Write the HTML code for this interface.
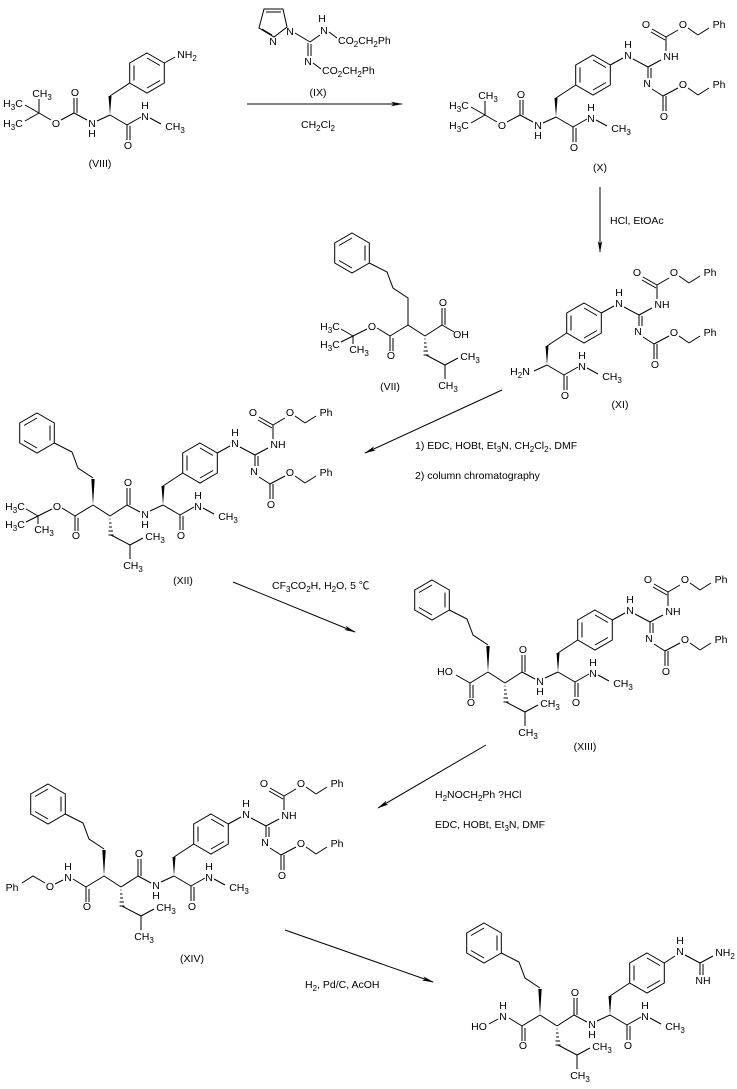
<!DOCTYPE html>
<html><head><meta charset="utf-8">
<style>
html,body{margin:0;padding:0;background:#fff;}
svg{display:block;}
text{font-family:"Liberation Sans","Noto Sans CJK SC",sans-serif;font-size:10.5px;fill:#000;}
.m{text-anchor:middle;}
line,polyline,polygon.r{stroke:#000;stroke-width:1;fill:none;}
</style></head><body>
<svg width="737" height="1089" viewBox="0 0 737 1089" xmlns="http://www.w3.org/2000/svg">
<defs>
<marker id="ah" markerWidth="12" markerHeight="6" refX="11" refY="3" orient="auto" markerUnits="userSpaceOnUse">
<polygon points="0,0.8 12,3 0,5.2 3,3" fill="#000"/>
</marker>
</defs>

<!-- ===== VIII ===== -->
<g transform="translate(-53,-390)">
 <!-- Boc -->
 <line x1="92" y1="503" x2="78" y2="495"/><line x1="92" y1="503" x2="78" y2="511"/><line x1="92" y1="503" x2="92" y2="489"/>
 <text x="95" y="487" class="m">CH<tspan dy="3" font-size="8">3</tspan></text>
 <text x="66" y="497" class="m">H<tspan dy="3" font-size="8">3</tspan><tspan dy="-3">C</tspan></text>
 <text x="66" y="517" class="m">H<tspan dy="3" font-size="8">3</tspan><tspan dy="-3">C</tspan></text>
 <line x1="92" y1="503" x2="104" y2="510"/>
 <text x="109" y="517" class="m">O</text>
 <line x1="114" y1="510" x2="127" y2="503"/>
 <line x1="127" y1="503" x2="127" y2="488"/><line x1="130" y1="503" x2="130" y2="488"/>
 <text x="128" y="486" class="m">O</text>
 <line x1="127" y1="503" x2="140" y2="510"/>
 <text x="145" y="517" class="m">N</text><text x="145" y="527" class="m">H</text>
 <!-- phe -->
 <line x1="150" y1="511" x2="163" y2="505"/>
 <polygon points="163,505 161.5,486 164.5,486" fill="#000"/>
 <line x1="163" y1="486" x2="182.7" y2="473"/>
 <polygon class="r" points="200,443 217.3,453 217.3,473 200,483 182.7,473 182.7,453"/>
 <line x1="200" y1="448" x2="213" y2="455.5"/><line x1="213" y1="470.5" x2="200" y2="478"/><line x1="187" y1="470.5" x2="187" y2="455.5"/>
 <line x1="163" y1="505" x2="180" y2="515"/>
 <line x1="180" y1="515" x2="180" y2="530"/><line x1="183" y1="516" x2="183" y2="530"/>
 <text x="181" y="539" class="m">O</text>
 <line x1="180" y1="515" x2="194" y2="507"/>
 <text x="198" y="510" class="m">N</text><text x="198" y="499" class="m">H</text>
 <line x1="203" y1="508" x2="214" y2="514"/>
 <text x="228" y="520" class="m">CH<tspan dy="3" font-size="8">3</tspan></text>
 <line x1="217.3" y1="453" x2="228" y2="447"/>
 <text x="240" y="448" class="m">NH<tspan dy="3" font-size="8">2</tspan></text>
</g>
<text x="100" y="167" class="m">(VIII)</text>

<!-- ===== IX reagent ===== -->
<polygon class="r" points="264,9 283,9 287,27 274,37 259,28"/>
<line x1="266" y1="12" x2="281" y2="12"/><line x1="262" y1="29" x2="272" y2="35"/>
<text x="290" y="35" class="m">N</text><text x="273" y="45" class="m">N</text>
<line x1="295" y1="33" x2="310" y2="42"/>
<line x1="310" y1="42" x2="320" y2="35"/>
<text x="324" y="34" class="m">N</text><text x="322" y="22" class="m">H</text>
<line x1="329" y1="32" x2="337" y2="38"/>
<text x="338" y="44">CO<tspan dy="3" font-size="8">2</tspan><tspan dy="-3">CH</tspan><tspan dy="3" font-size="8">2</tspan><tspan dy="-3">Ph</tspan></text>
<line x1="308" y1="43" x2="308" y2="56"/><line x1="311" y1="44" x2="311" y2="56"/>
<text x="308" y="65" class="m">N</text>
<line x1="313" y1="63" x2="321" y2="69"/>
<text x="322" y="74">CO<tspan dy="3" font-size="8">2</tspan><tspan dy="-3">CH</tspan><tspan dy="3" font-size="8">2</tspan><tspan dy="-3">Ph</tspan></text>
<text x="318" y="96" class="m">(IX)</text>
<line x1="247" y1="104" x2="402" y2="104" marker-end="url(#ah)"/>
<text x="318" y="128" class="m">CH<tspan dy="3" font-size="8">2</tspan><tspan dy="-3">Cl</tspan><tspan dy="3" font-size="8">2</tspan></text>

<!-- ===== X ===== -->
<g transform="translate(393,-388)">
 <line x1="92" y1="503" x2="78" y2="495"/><line x1="92" y1="503" x2="78" y2="511"/><line x1="92" y1="503" x2="92" y2="489"/>
 <text x="95" y="487" class="m">CH<tspan dy="3" font-size="8">3</tspan></text>
 <text x="66" y="497" class="m">H<tspan dy="3" font-size="8">3</tspan><tspan dy="-3">C</tspan></text>
 <text x="66" y="517" class="m">H<tspan dy="3" font-size="8">3</tspan><tspan dy="-3">C</tspan></text>
 <line x1="92" y1="503" x2="104" y2="510"/>
 <text x="109" y="517" class="m">O</text>
 <line x1="114" y1="510" x2="127" y2="503"/>
 <line x1="127" y1="503" x2="127" y2="488"/><line x1="130" y1="503" x2="130" y2="488"/>
 <text x="128" y="486" class="m">O</text>
 <line x1="127" y1="503" x2="140" y2="510"/>
 <text x="145" y="517" class="m">N</text><text x="145" y="527" class="m">H</text>
 <line x1="150" y1="511" x2="163" y2="505"/>
 <polygon points="163,505 161.5,486 164.5,486" fill="#000"/>
 <line x1="163" y1="486" x2="182.7" y2="473"/>
 <polygon class="r" points="200,443 217.3,453 217.3,473 200,483 182.7,473 182.7,453"/>
 <line x1="200" y1="448" x2="213" y2="455.5"/><line x1="213" y1="470.5" x2="200" y2="478"/><line x1="187" y1="470.5" x2="187" y2="455.5"/>
 <line x1="163" y1="505" x2="180" y2="515"/>
 <line x1="180" y1="515" x2="180" y2="530"/><line x1="183" y1="516" x2="183" y2="530"/>
 <text x="181" y="539" class="m">O</text>
 <line x1="180" y1="515" x2="194" y2="507"/>
 <text x="198" y="510" class="m">N</text><text x="198" y="499" class="m">H</text>
 <line x1="203" y1="508" x2="214" y2="514"/>
 <text x="228" y="520" class="m">CH<tspan dy="3" font-size="8">3</tspan></text>
 <line x1="217.3" y1="453" x2="230" y2="446"/>
 <text x="235" y="447" class="m">N</text><text x="235" y="436" class="m">H</text>
 <line x1="240" y1="447" x2="255" y2="455"/>
 <line x1="255" y1="455" x2="268" y2="448"/>
 <text x="278" y="448" class="m">NH</text>
 <line x1="255" y1="455" x2="255" y2="466"/><line x1="258" y1="456" x2="258" y2="466"/>
 <text x="254" y="475" class="m">N</text>
 <line x1="273" y1="439" x2="273" y2="425"/>
 <line x1="273" y1="425" x2="259" y2="417"/><line x1="272" y1="428" x2="258" y2="420"/>
 <text x="253" y="416" class="m">O</text>
 <line x1="273" y1="425" x2="285" y2="418"/>
 <text x="290" y="416" class="m">O</text>
 <line x1="295" y1="416" x2="305" y2="423"/><line x1="305" y1="423" x2="316" y2="416"/>
 <text x="326" y="416" class="m">Ph</text>
 <line x1="259" y1="477" x2="270" y2="484"/>
 <line x1="270" y1="484" x2="270" y2="499"/><line x1="273" y1="484" x2="273" y2="499"/>
 <text x="271" y="508" class="m">O</text>
 <line x1="270" y1="484" x2="285" y2="476"/>
 <text x="290" y="476" class="m">O</text>
 <line x1="295" y1="476" x2="305" y2="483"/><line x1="305" y1="483" x2="316" y2="476"/>
 <text x="326" y="476" class="m">Ph</text>
</g>
<text x="600" y="171" class="m">(X)</text>
<line x1="600" y1="187" x2="600" y2="252" marker-end="url(#ah)"/>
<text x="610" y="224">HCl, EtOAc</text>

<!-- ===== XI ===== -->
<g transform="translate(384,-140)">
 <text x="136" y="515" class="m">H<tspan dy="3" font-size="8">2</tspan><tspan dy="-3">N</tspan></text>
 <line x1="150" y1="511" x2="163" y2="505"/>
 <polygon points="163,505 161.5,486 164.5,486" fill="#000"/>
 <line x1="163" y1="486" x2="182.7" y2="473"/>
 <polygon class="r" points="200,443 217.3,453 217.3,473 200,483 182.7,473 182.7,453"/>
 <line x1="200" y1="448" x2="213" y2="455.5"/><line x1="213" y1="470.5" x2="200" y2="478"/><line x1="187" y1="470.5" x2="187" y2="455.5"/>
 <line x1="163" y1="505" x2="180" y2="515"/>
 <line x1="180" y1="515" x2="180" y2="530"/><line x1="183" y1="516" x2="183" y2="530"/>
 <text x="181" y="539" class="m">O</text>
 <line x1="180" y1="515" x2="194" y2="507"/>
 <text x="198" y="510" class="m">N</text><text x="198" y="499" class="m">H</text>
 <line x1="203" y1="508" x2="214" y2="514"/>
 <text x="228" y="520" class="m">CH<tspan dy="3" font-size="8">3</tspan></text>
 <line x1="217.3" y1="453" x2="230" y2="446"/>
 <text x="235" y="447" class="m">N</text><text x="235" y="436" class="m">H</text>
 <line x1="240" y1="447" x2="255" y2="455"/>
 <line x1="255" y1="455" x2="268" y2="448"/>
 <text x="278" y="448" class="m">NH</text>
 <line x1="255" y1="455" x2="255" y2="466"/><line x1="258" y1="456" x2="258" y2="466"/>
 <text x="254" y="475" class="m">N</text>
 <line x1="273" y1="439" x2="273" y2="425"/>
 <line x1="273" y1="425" x2="259" y2="417"/><line x1="272" y1="428" x2="258" y2="420"/>
 <text x="253" y="416" class="m">O</text>
 <line x1="273" y1="425" x2="285" y2="418"/>
 <text x="290" y="416" class="m">O</text>
 <line x1="295" y1="416" x2="305" y2="423"/><line x1="305" y1="423" x2="316" y2="416"/>
 <text x="326" y="416" class="m">Ph</text>
 <line x1="259" y1="477" x2="270" y2="484"/>
 <line x1="270" y1="484" x2="270" y2="499"/><line x1="273" y1="484" x2="273" y2="499"/>
 <text x="271" y="508" class="m">O</text>
 <line x1="270" y1="484" x2="285" y2="476"/>
 <text x="290" y="476" class="m">O</text>
 <line x1="295" y1="476" x2="305" y2="483"/><line x1="305" y1="483" x2="316" y2="476"/>
 <text x="326" y="476" class="m">Ph</text>
</g>
<text x="620" y="408" class="m">(XI)</text>

<!-- ===== VII ===== -->
<g transform="translate(315,-180)">
 <polygon class="r" points="37,413 54.3,423 54.3,443 37,453 19.7,443 19.7,423"/>
 <line x1="24" y1="425.5" x2="37" y2="418"/><line x1="50" y1="425.5" x2="50" y2="440.5"/><line x1="37" y1="448" x2="24" y2="440.5"/>
 <polyline points="54.3,443 72,452 78,468 93,478 93,505"/>
 <line x1="93" y1="505" x2="75" y2="516"/>
 <line x1="75" y1="516" x2="75" y2="531"/><line x1="78" y1="518" x2="78" y2="531"/>
 <text x="76" y="539" class="m">O</text>
 <line x1="75" y1="516" x2="62" y2="508"/>
 <text x="57" y="510" class="m">O</text>
 <line x1="52" y1="509" x2="38" y2="516"/>
 <line x1="38" y1="516" x2="26" y2="509"/><line x1="38" y1="516" x2="26" y2="522"/><line x1="38" y1="516" x2="38" y2="524"/>
 <text x="15" y="510" class="m">H<tspan dy="3" font-size="8">3</tspan><tspan dy="-3">C</tspan></text>
 <text x="15" y="528" class="m">H<tspan dy="3" font-size="8">3</tspan><tspan dy="-3">C</tspan></text>
 <text x="44" y="533" class="m">CH<tspan dy="3" font-size="8">3</tspan></text>
 <line x1="93" y1="505" x2="110" y2="516"/>
 <line x1="109.5" y1="519" x2="110.5" y2="519"/><line x1="109" y1="523" x2="111.5" y2="523"/><line x1="109" y1="527" x2="112" y2="527"/><line x1="108.5" y1="531" x2="113" y2="531"/><line x1="108.5" y1="535" x2="113.5" y2="535"/>
 <polyline points="111,535 130,545 143,538"/>
 <line x1="130" y1="545" x2="130" y2="559"/>
 <text x="155" y="540" class="m">CH<tspan dy="3" font-size="8">3</tspan></text>
 <text x="133" y="569" class="m">CH<tspan dy="3" font-size="8">3</tspan></text>
 <line x1="110" y1="516" x2="127" y2="505"/>
 <line x1="127" y1="505" x2="127" y2="488"/><line x1="130" y1="505" x2="130" y2="488"/>
 <text x="128" y="486" class="m">O</text>
 <line x1="127" y1="505" x2="139" y2="512"/>
 <text x="146" y="518" class="m">OH</text>
</g>
<text x="390" y="390" class="m">(VII)</text>
<line x1="502" y1="390" x2="365" y2="453" marker-end="url(#ah)"/>
<text x="415" y="449">1) EDC, HOBt, Et<tspan dy="3" font-size="8">3</tspan><tspan dy="-3">N, CH</tspan><tspan dy="3" font-size="8">2</tspan><tspan dy="-3">Cl</tspan><tspan dy="3" font-size="8">2</tspan><tspan dy="-3">, DMF</tspan></text>
<text x="415" y="479">2) column chromatography</text>

<!-- ===== XII ===== -->
<g transform="translate(0,0)">
 <polygon class="r" points="37,413 54.3,423 54.3,443 37,453 19.7,443 19.7,423"/>
 <line x1="24" y1="425.5" x2="37" y2="418"/><line x1="50" y1="425.5" x2="50" y2="440.5"/><line x1="37" y1="448" x2="24" y2="440.5"/>
 <polyline points="54.3,443 72,452 78,468 93,478"/>
 <polygon points="93,505 91.3,479 94.7,479" fill="#000"/>
 <line x1="93" y1="505" x2="75" y2="516"/>
 <line x1="75" y1="516" x2="75" y2="531"/><line x1="78" y1="518" x2="78" y2="531"/>
 <text x="76" y="539" class="m">O</text>
 <line x1="75" y1="516" x2="62" y2="508"/>
 <text x="57" y="510" class="m">O</text>
 <line x1="52" y1="509" x2="38" y2="516"/>
 <line x1="38" y1="516" x2="26" y2="509"/><line x1="38" y1="516" x2="26" y2="522"/><line x1="38" y1="516" x2="38" y2="524"/>
 <text x="15" y="510" class="m">H<tspan dy="3" font-size="8">3</tspan><tspan dy="-3">C</tspan></text>
 <text x="15" y="528" class="m">H<tspan dy="3" font-size="8">3</tspan><tspan dy="-3">C</tspan></text>
 <text x="44" y="533" class="m">CH<tspan dy="3" font-size="8">3</tspan></text>
 <line x1="93" y1="505" x2="110" y2="516"/>
 <line x1="109.5" y1="519" x2="110.5" y2="519"/><line x1="109" y1="523" x2="111.5" y2="523"/><line x1="109" y1="527" x2="112" y2="527"/><line x1="108.5" y1="531" x2="113" y2="531"/><line x1="108.5" y1="535" x2="113.5" y2="535"/>
 <polyline points="111,535 130,545 143,538"/>
 <line x1="130" y1="545" x2="130" y2="559"/>
 <text x="155" y="540" class="m">CH<tspan dy="3" font-size="8">3</tspan></text>
 <text x="133" y="569" class="m">CH<tspan dy="3" font-size="8">3</tspan></text>
 <line x1="110" y1="516" x2="127" y2="505"/>
 <line x1="127" y1="505" x2="127" y2="488"/><line x1="130" y1="505" x2="130" y2="488"/>
 <text x="128" y="486" class="m">O</text>
 <line x1="127" y1="505" x2="140" y2="512"/>
 <text x="145" y="518" class="m">N</text><text x="145" y="528" class="m">H</text>
 <line x1="150" y1="511" x2="163" y2="505"/>
 <polygon points="163,505 161.5,486 164.5,486" fill="#000"/>
 <line x1="163" y1="486" x2="182.7" y2="473"/>
 <polygon class="r" points="200,443 217.3,453 217.3,473 200,483 182.7,473 182.7,453"/>
 <line x1="200" y1="448" x2="213" y2="455.5"/><line x1="213" y1="470.5" x2="200" y2="478"/><line x1="187" y1="470.5" x2="187" y2="455.5"/>
 <line x1="163" y1="505" x2="180" y2="515"/>
 <line x1="180" y1="515" x2="180" y2="530"/><line x1="183" y1="516" x2="183" y2="530"/>
 <text x="181" y="539" class="m">O</text>
 <line x1="180" y1="515" x2="194" y2="507"/>
 <text x="198" y="510" class="m">N</text><text x="198" y="499" class="m">H</text>
 <line x1="203" y1="508" x2="214" y2="514"/>
 <text x="228" y="520" class="m">CH<tspan dy="3" font-size="8">3</tspan></text>
 <line x1="217.3" y1="453" x2="230" y2="446"/>
 <text x="235" y="447" class="m">N</text><text x="235" y="436" class="m">H</text>
 <line x1="240" y1="447" x2="255" y2="455"/>
 <line x1="255" y1="455" x2="268" y2="448"/>
 <text x="278" y="448" class="m">NH</text>
 <line x1="255" y1="455" x2="255" y2="466"/><line x1="258" y1="456" x2="258" y2="466"/>
 <text x="254" y="475" class="m">N</text>
 <line x1="273" y1="439" x2="273" y2="425"/>
 <line x1="273" y1="425" x2="259" y2="417"/><line x1="272" y1="428" x2="258" y2="420"/>
 <text x="253" y="416" class="m">O</text>
 <line x1="273" y1="425" x2="285" y2="418"/>
 <text x="290" y="416" class="m">O</text>
 <line x1="295" y1="416" x2="305" y2="423"/><line x1="305" y1="423" x2="316" y2="416"/>
 <text x="326" y="416" class="m">Ph</text>
 <line x1="259" y1="477" x2="270" y2="484"/>
 <line x1="270" y1="484" x2="270" y2="499"/><line x1="273" y1="484" x2="273" y2="499"/>
 <text x="271" y="508" class="m">O</text>
 <line x1="270" y1="484" x2="285" y2="476"/>
 <text x="290" y="476" class="m">O</text>
 <line x1="295" y1="476" x2="305" y2="483"/><line x1="305" y1="483" x2="316" y2="476"/>
 <text x="326" y="476" class="m">Ph</text>
</g>
<text x="183" y="584" class="m">(XII)</text>
<line x1="233" y1="582" x2="355" y2="632" marker-end="url(#ah)"/>
<text x="272" y="589">CF<tspan dy="3" font-size="8">3</tspan><tspan dy="-3">CO</tspan><tspan dy="3" font-size="8">2</tspan><tspan dy="-3">H, H</tspan><tspan dy="3" font-size="8">2</tspan><tspan dy="-3">O, 5 ℃</tspan></text>

<!-- ===== XIII ===== -->
<g transform="translate(395,167)">
 <polygon class="r" points="37,413 54.3,423 54.3,443 37,453 19.7,443 19.7,423"/>
 <line x1="24" y1="425.5" x2="37" y2="418"/><line x1="50" y1="425.5" x2="50" y2="440.5"/><line x1="37" y1="448" x2="24" y2="440.5"/>
 <polyline points="54.3,443 72,452 78,468 93,478"/>
 <polygon points="93,505 91.3,479 94.7,479" fill="#000"/>
 <line x1="93" y1="505" x2="75" y2="516"/>
 <line x1="75" y1="516" x2="75" y2="531"/><line x1="78" y1="518" x2="78" y2="531"/>
 <text x="76" y="539" class="m">O</text>
 <line x1="75" y1="516" x2="61" y2="508"/>
 <text x="50" y="508" class="m">HO</text>
 <line x1="93" y1="505" x2="110" y2="516"/>
 <line x1="109.5" y1="519" x2="110.5" y2="519"/><line x1="109" y1="523" x2="111.5" y2="523"/><line x1="109" y1="527" x2="112" y2="527"/><line x1="108.5" y1="531" x2="113" y2="531"/><line x1="108.5" y1="535" x2="113.5" y2="535"/>
 <polyline points="111,535 130,545 143,538"/>
 <line x1="130" y1="545" x2="130" y2="559"/>
 <text x="155" y="540" class="m">CH<tspan dy="3" font-size="8">3</tspan></text>
 <text x="133" y="569" class="m">CH<tspan dy="3" font-size="8">3</tspan></text>
 <line x1="110" y1="516" x2="127" y2="505"/>
 <line x1="127" y1="505" x2="127" y2="488"/><line x1="130" y1="505" x2="130" y2="488"/>
 <text x="128" y="486" class="m">O</text>
 <line x1="127" y1="505" x2="140" y2="512"/>
 <text x="145" y="518" class="m">N</text><text x="145" y="528" class="m">H</text>
 <line x1="150" y1="511" x2="163" y2="505"/>
 <polygon points="163,505 161.5,486 164.5,486" fill="#000"/>
 <line x1="163" y1="486" x2="182.7" y2="473"/>
 <polygon class="r" points="200,443 217.3,453 217.3,473 200,483 182.7,473 182.7,453"/>
 <line x1="200" y1="448" x2="213" y2="455.5"/><line x1="213" y1="470.5" x2="200" y2="478"/><line x1="187" y1="470.5" x2="187" y2="455.5"/>
 <line x1="163" y1="505" x2="180" y2="515"/>
 <line x1="180" y1="515" x2="180" y2="530"/><line x1="183" y1="516" x2="183" y2="530"/>
 <text x="181" y="539" class="m">O</text>
 <line x1="180" y1="515" x2="194" y2="507"/>
 <text x="198" y="510" class="m">N</text><text x="198" y="499" class="m">H</text>
 <line x1="203" y1="508" x2="214" y2="514"/>
 <text x="228" y="520" class="m">CH<tspan dy="3" font-size="8">3</tspan></text>
 <line x1="217.3" y1="453" x2="230" y2="446"/>
 <text x="235" y="447" class="m">N</text><text x="235" y="436" class="m">H</text>
 <line x1="240" y1="447" x2="255" y2="455"/>
 <line x1="255" y1="455" x2="268" y2="448"/>
 <text x="278" y="448" class="m">NH</text>
 <line x1="255" y1="455" x2="255" y2="466"/><line x1="258" y1="456" x2="258" y2="466"/>
 <text x="254" y="475" class="m">N</text>
 <line x1="273" y1="439" x2="273" y2="425"/>
 <line x1="273" y1="425" x2="259" y2="417"/><line x1="272" y1="428" x2="258" y2="420"/>
 <text x="253" y="416" class="m">O</text>
 <line x1="273" y1="425" x2="285" y2="418"/>
 <text x="290" y="416" class="m">O</text>
 <line x1="295" y1="416" x2="305" y2="423"/><line x1="305" y1="423" x2="316" y2="416"/>
 <text x="326" y="416" class="m">Ph</text>
 <line x1="259" y1="477" x2="270" y2="484"/>
 <line x1="270" y1="484" x2="270" y2="499"/><line x1="273" y1="484" x2="273" y2="499"/>
 <text x="271" y="508" class="m">O</text>
 <line x1="270" y1="484" x2="285" y2="476"/>
 <text x="290" y="476" class="m">O</text>
 <line x1="295" y1="476" x2="305" y2="483"/><line x1="305" y1="483" x2="316" y2="476"/>
 <text x="326" y="476" class="m">Ph</text>
</g>
<text x="585" y="750" class="m">(XIII)</text>
<line x1="486" y1="745" x2="378" y2="808" marker-end="url(#ah)"/>
<text x="435" y="798">H<tspan dy="3" font-size="8">2</tspan><tspan dy="-3">NOCH</tspan><tspan dy="3" font-size="8">2</tspan><tspan dy="-3">Ph ?HCl</tspan></text>
<text x="435" y="828">EDC, HOBt, Et<tspan dy="3" font-size="8">3</tspan><tspan dy="-3">N, DMF</tspan></text>

<!-- ===== XIV ===== -->
<g transform="translate(11,371)">
 <polygon class="r" points="37,413 54.3,423 54.3,443 37,453 19.7,443 19.7,423"/>
 <line x1="24" y1="425.5" x2="37" y2="418"/><line x1="50" y1="425.5" x2="50" y2="440.5"/><line x1="37" y1="448" x2="24" y2="440.5"/>
 <polyline points="54.3,443 72,452 78,468 93,478"/>
 <polygon points="93,505 91.3,479 94.7,479" fill="#000"/>
 <line x1="93" y1="505" x2="75" y2="516"/>
 <line x1="75" y1="516" x2="75" y2="531"/><line x1="78" y1="518" x2="78" y2="531"/>
 <text x="76" y="539" class="m">O</text>
 <line x1="75" y1="516" x2="62" y2="508"/>
 <text x="57" y="510" class="m">N</text><text x="57" y="499" class="m">H</text>
 <line x1="52" y1="509" x2="44" y2="513"/>
 <text x="39" y="519" class="m">O</text>
 <polyline points="34,512 22,505 11,512"/>
 <text x="1" y="520" class="m">Ph</text>
 <line x1="93" y1="505" x2="110" y2="516"/>
 <line x1="109.5" y1="519" x2="110.5" y2="519"/><line x1="109" y1="523" x2="111.5" y2="523"/><line x1="109" y1="527" x2="112" y2="527"/><line x1="108.5" y1="531" x2="113" y2="531"/><line x1="108.5" y1="535" x2="113.5" y2="535"/>
 <polyline points="111,535 130,545 143,538"/>
 <line x1="130" y1="545" x2="130" y2="559"/>
 <text x="155" y="540" class="m">CH<tspan dy="3" font-size="8">3</tspan></text>
 <text x="133" y="569" class="m">CH<tspan dy="3" font-size="8">3</tspan></text>
 <line x1="110" y1="516" x2="127" y2="505"/>
 <line x1="127" y1="505" x2="127" y2="488"/><line x1="130" y1="505" x2="130" y2="488"/>
 <text x="128" y="486" class="m">O</text>
 <line x1="127" y1="505" x2="140" y2="512"/>
 <text x="145" y="518" class="m">N</text><text x="145" y="528" class="m">H</text>
 <line x1="150" y1="511" x2="163" y2="505"/>
 <polygon points="163,505 161.5,486 164.5,486" fill="#000"/>
 <line x1="163" y1="486" x2="182.7" y2="473"/>
 <polygon class="r" points="200,443 217.3,453 217.3,473 200,483 182.7,473 182.7,453"/>
 <line x1="200" y1="448" x2="213" y2="455.5"/><line x1="213" y1="470.5" x2="200" y2="478"/><line x1="187" y1="470.5" x2="187" y2="455.5"/>
 <line x1="163" y1="505" x2="180" y2="515"/>
 <line x1="180" y1="515" x2="180" y2="530"/><line x1="183" y1="516" x2="183" y2="530"/>
 <text x="181" y="539" class="m">O</text>
 <line x1="180" y1="515" x2="194" y2="507"/>
 <text x="198" y="510" class="m">N</text><text x="198" y="499" class="m">H</text>
 <line x1="203" y1="508" x2="214" y2="514"/>
 <text x="228" y="520" class="m">CH<tspan dy="3" font-size="8">3</tspan></text>
 <line x1="217.3" y1="453" x2="230" y2="446"/>
 <text x="235" y="447" class="m">N</text><text x="235" y="436" class="m">H</text>
 <line x1="240" y1="447" x2="255" y2="455"/>
 <line x1="255" y1="455" x2="268" y2="448"/>
 <text x="278" y="448" class="m">NH</text>
 <line x1="255" y1="455" x2="255" y2="466"/><line x1="258" y1="456" x2="258" y2="466"/>
 <text x="254" y="475" class="m">N</text>
 <line x1="273" y1="439" x2="273" y2="425"/>
 <line x1="273" y1="425" x2="259" y2="417"/><line x1="272" y1="428" x2="258" y2="420"/>
 <text x="253" y="416" class="m">O</text>
 <line x1="273" y1="425" x2="285" y2="418"/>
 <text x="290" y="416" class="m">O</text>
 <line x1="295" y1="416" x2="305" y2="423"/><line x1="305" y1="423" x2="316" y2="416"/>
 <text x="326" y="416" class="m">Ph</text>
 <line x1="259" y1="477" x2="270" y2="484"/>
 <line x1="270" y1="484" x2="270" y2="499"/><line x1="273" y1="484" x2="273" y2="499"/>
 <text x="271" y="508" class="m">O</text>
 <line x1="270" y1="484" x2="285" y2="476"/>
 <text x="290" y="476" class="m">O</text>
 <line x1="295" y1="476" x2="305" y2="483"/><line x1="305" y1="483" x2="316" y2="476"/>
 <text x="326" y="476" class="m">Ph</text>
</g>
<text x="192" y="962" class="m">(XIV)</text>
<line x1="285" y1="930" x2="433" y2="982" marker-end="url(#ah)"/>
<text x="305" y="988">H<tspan dy="3" font-size="8">2</tspan><tspan dy="-3">, Pd/C, AcOH</tspan></text>

<!-- ===== Final ===== -->
<g transform="translate(447,510)">
 <polygon class="r" points="37,413 54.3,423 54.3,443 37,453 19.7,443 19.7,423"/>
 <line x1="24" y1="425.5" x2="37" y2="418"/><line x1="50" y1="425.5" x2="50" y2="440.5"/><line x1="37" y1="448" x2="24" y2="440.5"/>
 <polyline points="54.3,443 72,452 78,468 93,478"/>
 <polygon points="93,505 91.3,479 94.7,479" fill="#000"/>
 <line x1="93" y1="505" x2="75" y2="516"/>
 <line x1="75" y1="516" x2="75" y2="531"/><line x1="78" y1="518" x2="78" y2="531"/>
 <text x="76" y="539" class="m">O</text>
 <line x1="75" y1="516" x2="62" y2="508"/>
 <text x="56" y="510" class="m">N</text><text x="56" y="499" class="m">H</text>
 <line x1="51" y1="509" x2="42" y2="514"/>
 <text x="32" y="520" class="m">HO</text>
 <line x1="93" y1="505" x2="110" y2="516"/>
 <line x1="109.5" y1="519" x2="110.5" y2="519"/><line x1="109" y1="523" x2="111.5" y2="523"/><line x1="109" y1="527" x2="112" y2="527"/><line x1="108.5" y1="531" x2="113" y2="531"/><line x1="108.5" y1="535" x2="113.5" y2="535"/>
 <polyline points="111,535 130,545 143,538"/>
 <line x1="130" y1="545" x2="130" y2="559"/>
 <text x="155" y="540" class="m">CH<tspan dy="3" font-size="8">3</tspan></text>
 <text x="133" y="569" class="m">CH<tspan dy="3" font-size="8">3</tspan></text>
 <line x1="110" y1="516" x2="127" y2="505"/>
 <line x1="127" y1="505" x2="127" y2="488"/><line x1="130" y1="505" x2="130" y2="488"/>
 <text x="128" y="486" class="m">O</text>
 <line x1="127" y1="505" x2="140" y2="512"/>
 <text x="145" y="518" class="m">N</text><text x="145" y="528" class="m">H</text>
 <line x1="150" y1="511" x2="163" y2="505"/>
 <polygon points="163,505 161.5,486 164.5,486" fill="#000"/>
 <line x1="163" y1="486" x2="182.7" y2="473"/>
 <polygon class="r" points="200,443 217.3,453 217.3,473 200,483 182.7,473 182.7,453"/>
 <line x1="200" y1="448" x2="213" y2="455.5"/><line x1="213" y1="470.5" x2="200" y2="478"/><line x1="187" y1="470.5" x2="187" y2="455.5"/>
 <line x1="163" y1="505" x2="180" y2="515"/>
 <line x1="180" y1="515" x2="180" y2="530"/><line x1="183" y1="516" x2="183" y2="530"/>
 <text x="181" y="539" class="m">O</text>
 <line x1="180" y1="515" x2="194" y2="507"/>
 <text x="198" y="510" class="m">N</text><text x="198" y="499" class="m">H</text>
 <line x1="203" y1="508" x2="214" y2="514"/>
 <text x="228" y="520" class="m">CH<tspan dy="3" font-size="8">3</tspan></text>
 <line x1="217.3" y1="453" x2="228" y2="446"/>
 <text x="233" y="445" class="m">N</text><text x="233" y="434" class="m">H</text>
 <line x1="238" y1="445" x2="253" y2="453"/>
 <line x1="253" y1="453" x2="266" y2="446"/>
 <text x="278" y="446" class="m">NH<tspan dy="3" font-size="8">2</tspan></text>
 <line x1="253" y1="453" x2="253" y2="465"/><line x1="256" y1="454" x2="256" y2="465"/>
 <text x="256" y="474" class="m">NH</text>
</g>
</svg>
</body></html>
